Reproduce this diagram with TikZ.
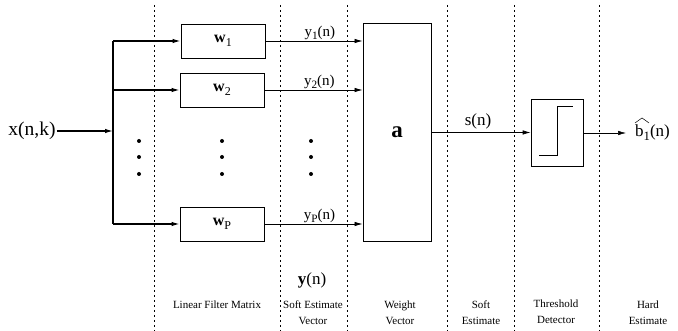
\documentclass[tikz,border=0pt]{standalone}
\usepackage{fontspec}
\setmainfont{Liberation Serif}
\usetikzlibrary{arrows.meta}
\newcommand{\lowsub}[1]{\raisebox{-0.5ex}{\fontsize{0.75em}{0.8em}\selectfont #1}}
\begin{document}
\begin{tikzpicture}[x=1pt,y=-1pt,
  blk/.style={draw,line width=0.9pt,minimum width=84pt,minimum height=34pt,inner sep=0pt},
  sep/.style={line width=0.5pt,dash pattern=on 2.5pt off 2.5pt},
  thick/.style={line width=1.2pt},
  thin/.style={line width=0.7pt},
  arr/.style={-{Latex[length=8pt,width=4.5pt]}},
  lab/.style={font=\fontsize{11}{14}\selectfont,align=center,inner sep=0pt},
  ylab/.style={pos=0.56,above=0pt,font=\fontsize{15}{17}\selectfont,inner sep=1pt},
  dot/.style={circle,fill,inner sep=0pt,minimum size=4pt}]
\useasboundingbox (0,0) rectangle (678,331);
% separators
\foreach \xx in {154,280,347,447,514,599}
  \draw[sep] (\xx,5) -- (\xx,331);
% input
\node[font=\fontsize{19.5}{21}\selectfont,inner sep=1pt] (xin) at (32,131) {x(n,k)};
\coordinate (sp) at (113,131);
\coordinate (t1) at (113,41);
\coordinate (t2) at (113,90);
\coordinate (tp) at (113,224);
\draw[thick,arr] (xin.east) -- (sp);
\draw[thick] (t1) -- (tp);
% filters
\node[blk] (w1) at (223,41) {\fontsize{16}{18}\selectfont\textbf{w}\lowsub{1}};
\node[blk] (w2) at (222,90) {\fontsize{16}{18}\selectfont\textbf{w}\lowsub{2}};
\node[blk] (wp) at (222,224) {\fontsize{16}{18}\selectfont\textbf{w}\lowsub{P}};
\draw[thick,arr] (t1) -- (w1.west);
\draw[thick,arr] (t2) -- (w2.west);
\draw[thick,arr] (tp) -- (wp.west);
% dots
\foreach \xx in {139,222,311}
  \foreach \yy in {141,157,174}
    \node[dot] at (\xx,\yy) {};
% weight box
\node[draw,line width=0.9pt,minimum width=68pt,minimum height=218pt,inner sep=0pt] (a) at (397,132) {\fontsize{23}{25}\selectfont\textbf{a}};
\draw[thin,arr] (w1.east) -- (a.west |- w1.east) node[ylab] {y\lowsub{1}(n)};
\draw[thin,arr] (w2.east) -- (a.west |- w2.east) node[ylab] {y\lowsub{2}(n)};
\draw[thin,arr] (wp.east) -- (a.west |- wp.east) node[ylab] {y\lowsub{P}(n)};
% threshold detector
\node[draw,line width=0.7pt,minimum width=52pt,minimum height=67pt,inner sep=0pt] (thr) at (557,132.5) {};
\draw[line width=1pt] (539,156) -- (557,156) -- (557,107) -- (573,107);
\draw[thin,arr] (a.east |- thr.west) -- (thr.west) node[pos=0.47,above=2pt,font=\fontsize{17}{19}\selectfont,inner sep=1pt] {s(n)};
\node[anchor=west,font=\fontsize{17}{19}\selectfont,inner xsep=9pt,inner ysep=0pt] (bh) at (626,133) {b\lowsub{1}(n)};
\draw[line width=0.5pt] ([xshift=9pt,yshift=2pt]bh.north west) -- ([xshift=16pt,yshift=7pt]bh.north west) -- ([xshift=23pt,yshift=2pt]bh.north west);
\draw[line width=0.5pt,arr] (thr.east |- bh.west) -- (bh.west);
% bottom labels
\node[font=\fontsize{17}{19}\selectfont] (yv) at (312,280) {\textbf{y}(n)};
\node[lab] (l1) at (217,305) {Linear Filter Matrix};
\node[lab] (l2) at (313,313) {Soft Estimate\\[2pt]Vector};
\node[lab] (l3) at (400,313) {Weight\\[2pt]Vector};
\node[lab] (l4) at (481,313) {Soft\\[2pt]Estimate};
\node[lab] (l5) at (556,312) {Threshold\\[2pt]Detector};
\node[lab] (l6) at (648,313) {Hard\\[2pt]Estimate};
\end{tikzpicture}
\end{document}
